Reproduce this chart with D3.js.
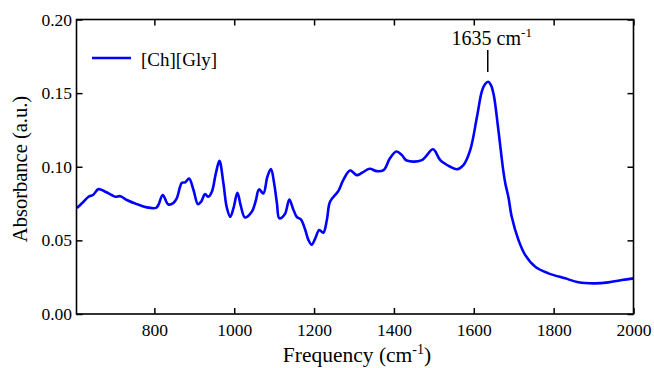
<!DOCTYPE html>
<html>
<head>
<meta charset="utf-8">
<script src="https://cdn.jsdelivr.net/npm/d3@7"></script>
<style>
  body { margin: 0; background: #fff; }
  svg { display: block; }
  text { font-family: "Liberation Serif", "DejaVu Serif", serif; fill: #000; }
</style>
</head>
<body>
<svg id="chart" width="654" height="368"></svg>
<script>
// spectrum
const freq = [606, 618, 635, 647, 660, 677, 693, 702, 715, 731, 756, 781, 804, 810, 821, 835, 848, 856, 869, 877, 887, 898, 909, 917, 927, 935, 944, 954, 963, 973, 981, 990, 998, 1008, 1016, 1027, 1044, 1054, 1062, 1073, 1083, 1092, 1100, 1107, 1113, 1127, 1138, 1147, 1157, 1167, 1178, 1186, 1194, 1203, 1213, 1223, 1232, 1240, 1261, 1273, 1290, 1307, 1320, 1339, 1357, 1374, 1390, 1406, 1420, 1432, 1470, 1498, 1516, 1541, 1558, 1574, 1591, 1608, 1620, 1628, 1636, 1643, 1650, 1662, 1674, 1679, 1687, 1695, 1712, 1729, 1754, 1787, 1829, 1862, 1904, 1937, 1971, 2000];
const absorb = [0.0720, 0.0750, 0.0796, 0.0810, 0.0848, 0.0830, 0.0808, 0.0796, 0.0800, 0.0774, 0.0746, 0.0724, 0.0721, 0.0740, 0.0808, 0.0744, 0.0755, 0.0785, 0.0891, 0.0894, 0.0920, 0.0842, 0.0746, 0.0762, 0.0814, 0.0796, 0.0830, 0.0955, 0.1040, 0.0887, 0.0728, 0.0660, 0.0717, 0.0823, 0.0740, 0.0656, 0.0694, 0.0769, 0.0846, 0.0819, 0.0932, 0.0984, 0.0887, 0.0751, 0.0650, 0.0679, 0.0778, 0.0717, 0.0658, 0.0643, 0.0570, 0.0502, 0.0470, 0.0514, 0.0570, 0.0552, 0.0638, 0.0762, 0.0836, 0.0909, 0.0975, 0.0943, 0.0959, 0.0986, 0.0970, 0.0977, 0.1057, 0.1103, 0.1079, 0.1042, 0.1045, 0.1119, 0.1045, 0.1000, 0.0983, 0.1011, 0.1113, 0.1339, 0.1510, 0.1560, 0.1577, 0.1555, 0.1487, 0.1240, 0.0970, 0.0887, 0.0790, 0.0660, 0.0502, 0.0400, 0.0321, 0.0276, 0.0242, 0.0215, 0.0208, 0.0215, 0.0231, 0.0242];
const xTicks = [800, 1000, 1200, 1400, 1600, 1800, 2000];
const yTicks = [0.00, 0.05, 0.10, 0.15, 0.20];
const seriesName = '[Ch][Gly]';
const peakFreq = 1635;

const svg = d3.select('#chart');
const plotL = 76.5, plotR = 633.5, plotT = 19.5, plotB = 314;

const x = d3.scaleLinear().domain([605, 2000]).range([plotL, plotR]);
const y = d3.scaleLinear().domain([0, 0.2]).range([plotB, plotT]);

// curve
const data = freq.map((f, i) => [f, absorb[i]]);
const line = d3.line()
  .x(d => x(d[0]))
  .y(d => y(d[1]))
  .curve(d3.curveCatmullRom.alpha(0.5));

svg.append('path')
  .datum(data)
  .attr('d', line)
  .attr('fill', 'none')
  .attr('stroke', '#0000ff')
  .attr('stroke-width', 2.6)
  .attr('stroke-linejoin', 'round');

// axes, ticks pointing inward on all sides
svg.append('g')
  .attr('transform', `translate(0,${plotB})`)
  .call(d3.axisBottom(x).tickValues(xTicks).tickSizeInner(-6).tickSizeOuter(0).tickPadding(10).tickFormat(d3.format('d')));
svg.append('g')
  .attr('transform', `translate(0,${plotT})`)
  .call(d3.axisTop(x).tickValues(xTicks).tickSizeInner(-6).tickSizeOuter(0).tickFormat(''));
svg.append('g')
  .attr('transform', `translate(${plotL},0)`)
  .call(d3.axisLeft(y).tickValues(yTicks).tickSizeInner(-6).tickSizeOuter(0).tickPadding(4.5).tickFormat(d3.format('.2f')));
svg.append('g')
  .attr('transform', `translate(${plotR},0)`)
  .call(d3.axisRight(y).tickValues(yTicks).tickSizeInner(-6).tickSizeOuter(0).tickFormat(''));

svg.selectAll('.tick line').attr('stroke', '#000').attr('stroke-width', 1.5);
svg.selectAll('.domain').remove();
svg.selectAll('.tick text')
  .style('font-family', '"Liberation Serif", "DejaVu Serif", serif')
  .style('font-size', '17.5px')
  .attr('fill', '#000');

// frame
svg.append('rect')
  .attr('x', plotL).attr('y', plotT)
  .attr('width', plotR - plotL).attr('height', plotB - plotT)
  .attr('fill', 'none').attr('stroke', '#000').attr('stroke-width', 1.6);

// axis titles
const xt = svg.append('text')
  .attr('x', 357).attr('y', 362)
  .attr('text-anchor', 'middle')
  .style('font-size', '21.5px');
xt.append('tspan').text('Frequency (cm');
xt.append('tspan').attr('dy', -8).style('font-size', '14px').text('-1');
xt.append('tspan').attr('dy', 8).text(')');

svg.append('text')
  .attr('transform', `translate(27,169) rotate(-90)`)
  .attr('text-anchor', 'middle')
  .style('font-size', '20.5px')
  .text('Absorbance (a.u.)');

// legend
svg.append('line')
  .attr('x1', 92).attr('x2', 131).attr('y1', 58).attr('y2', 58)
  .attr('stroke', '#0000ff').attr('stroke-width', 2.6);
svg.append('text')
  .attr('x', 141).attr('y', 65.5)
  .style('font-size', '19px')
  .text(seriesName);

// peak annotation
const px = x(peakFreq);
svg.append('line')
  .attr('x1', px).attr('x2', px).attr('y1', 50).attr('y2', 72)
  .attr('stroke', '#000').attr('stroke-width', 1.5);
const at = svg.append('text')
  .attr('x', px + 4).attr('y', 45)
  .attr('text-anchor', 'middle')
  .style('font-size', '20px');
at.append('tspan').text(peakFreq + ' cm');
at.append('tspan').attr('dy', -8).style('font-size', '13px').text('-1');
</script>
</body>
</html>
